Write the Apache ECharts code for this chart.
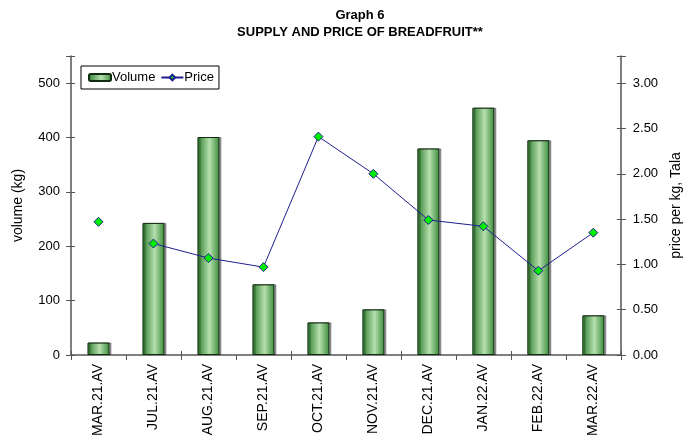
<!DOCTYPE html>
<html>
<head>
<meta charset="utf-8">
<script src="https://cdn.jsdelivr.net/npm/echarts@6/dist/echarts.min.js"></script>
<style>html,body{margin:0;padding:0;background:#fff}#c{width:691px;height:445px}</style>
</head>
<body>
<div id="c"></div>
<script>
var categories = ['MAR.21.AV','JUL.21.AV','AUG.21.AV','SEP.21.AV','OCT.21.AV','NOV.21.AV','DEC.21.AV','JAN.22.AV','FEB.22.AV','MAR.22.AV'];
var volume = [23, 243, 401, 130, 60, 84, 380, 455, 395, 73];
var price = [1.47, 1.23, 1.07, 0.97, 2.41, 2.00, 1.49, 1.42, 0.93, 1.35];
var volumeTicks = [0, 100, 200, 300, 400, 500];
var priceTicks = [0, 0.5, 1, 1.5, 2, 2.5, 3];

var FONT = 'Liberation Sans, Arial, sans-serif';
var axisColor = '#555555';
var barFill = new echarts.graphic.LinearGradient(0, 0, 1, 0, [
  {offset: 0, color: '#2f7f2f'},
  {offset: 0.55, color: '#b6dfae'},
  {offset: 1, color: '#3a8c3a'}
]);
var lineData = price.map(function (v, i) { return i === 0 ? '-' : v; });
var loneData = price.map(function (v, i) { return i === 0 ? v : '-'; });

function innerTickAxis(base) {
  return Object.assign({
    axisLine: {show: false},
    axisTick: {show: true, inside: true, length: 4, lineStyle: {color: axisColor}},
    axisLabel: {show: false},
    splitLine: {show: false}
  }, base);
}

var chart = echarts.init(document.getElementById('c'), null, {renderer: 'canvas'});
chart.setOption({
  animation: false,
  backgroundColor: '#ffffff',
  title: {
    text: 'Graph 6\nSUPPLY AND PRICE OF BREADFRUIT**',
    left: 355, top: 2, textAlign: 'center',
    textStyle: {fontFamily: FONT, fontSize: 13, fontWeight: 'bold', color: '#000', lineHeight: 17}
  },
  legend: {
    left: 81, top: 66,
    data: [{name: 'Volume'}, {name: 'Price'}],
    itemWidth: 22, itemHeight: 7, itemGap: 5,
    borderColor: '#000', borderWidth: 1, padding: [5, 5, 5, 7],
    textStyle: {fontFamily: FONT, fontSize: 13, color: '#000', padding: [0, 0, 0, -4]}
  },
  grid: {left: 71, right: 63, top: 56, bottom: 90},
  xAxis: [
    {
      type: 'category', data: categories,
      axisLine: {lineStyle: {color: axisColor, width: 1.5}},
      axisTick: {show: true, length: 5, lineStyle: {color: axisColor}},
      axisLabel: {rotate: 90, fontFamily: FONT, fontSize: 14, color: '#000', margin: 9}
    },
    innerTickAxis({type: 'category', data: categories, position: 'bottom'})
  ],
  yAxis: [
    {
      type: 'value', min: 0, max: 550, interval: 100,
      name: 'volume (kg)', nameLocation: 'middle', nameGap: 46, nameRotate: 90,
      nameTextStyle: {fontFamily: FONT, fontSize: 14, color: '#000'},
      axisLine: {show: true, lineStyle: {color: axisColor, width: 1.5}},
      axisTick: {show: true, length: 5, lineStyle: {color: axisColor}},
      axisLabel: {fontFamily: FONT, fontSize: 13, color: '#000', margin: 11,
        formatter: function (v) { return volumeTicks.indexOf(v) >= 0 ? v : ''; }},
      splitLine: {show: false}
    },
    {
      type: 'value', min: 0, max: 3.3, interval: 0.5,
      name: 'price per kg, Tala', nameLocation: 'middle', nameGap: 42, nameRotate: 90,
      nameTextStyle: {fontFamily: FONT, fontSize: 14, color: '#000'},
      axisLine: {show: true, lineStyle: {color: axisColor, width: 1.5}},
      axisTick: {show: true, length: 5, lineStyle: {color: axisColor}},
      axisLabel: {fontFamily: FONT, fontSize: 13, color: '#000', margin: 12,
        formatter: function (v) { return priceTicks.indexOf(v) >= 0 ? v.toFixed(2) : ''; }},
      splitLine: {show: false}
    },
    innerTickAxis({type: 'value', min: 0, max: 550, interval: 100, position: 'left'}),
    innerTickAxis({type: 'value', min: 0, max: 3.3, interval: 0.5, position: 'right'})
  ],
  series: [
    {
      name: 'Volume', type: 'bar', data: volume, barWidth: 22,
      itemStyle: {color: barFill, borderColor: '#0f2a0f', borderWidth: 1,
        shadowColor: 'rgba(0,0,0,0.35)', shadowOffsetX: 2, shadowOffsetY: 0, shadowBlur: 0}
    },
    {
      name: 'Price', type: 'line', yAxisIndex: 1, data: lineData,
      symbol: 'diamond', symbolSize: 9, showAllSymbol: true,
      lineStyle: {color: '#1f1f8f', width: 1},
      itemStyle: {color: '#00ee00', borderColor: '#1f1f8f', borderWidth: 1}
    },
    {
      name: 'Price', type: 'line', yAxisIndex: 1, data: loneData,
      symbol: 'diamond', symbolSize: 9, showAllSymbol: true,
      lineStyle: {color: '#1f1f8f', width: 1},
      itemStyle: {color: '#00ee00', borderColor: '#1f1f8f', borderWidth: 1}
    }
  ]
});
</script>
</body>
</html>
